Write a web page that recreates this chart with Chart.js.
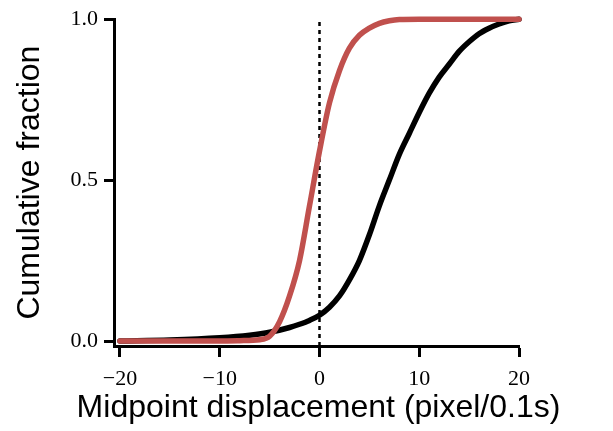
<!DOCTYPE html>
<html>
<head>
<meta charset="utf-8">
<script src="https://cdn.jsdelivr.net/npm/chart.js@4"></script>
<style>
  html, body { margin: 0; padding: 0; background: #fff; }
  #wrap { width: 613px; height: 431px; }
</style>
</head>
<body>
<div id="wrap"><canvas id="cdf" width="613" height="431"></canvas></div>
<script>
// black curve
const blackX = [-20, -15, -10, -7, -5, -3, -2, -1, 0, 1, 2, 3, 4, 5, 6, 7, 8, 9, 10, 11, 12, 13, 14, 15, 16, 17, 18, 19, 20];
const blackY = [0.0, 0.003, 0.01, 0.018, 0.027, 0.042, 0.052, 0.064, 0.08, 0.105, 0.14, 0.19, 0.25, 0.33, 0.42, 0.5, 0.58, 0.645, 0.71, 0.77, 0.82, 0.86, 0.9, 0.93, 0.955, 0.972, 0.985, 0.995, 1.0];

// red curve
const redX = [-20, -15, -10, -8, -6, -5, -4, -3, -2, -1, 0, 1, 2, 3, 4, 5, 6, 7, 8, 10, 15, 20];
const redY = [0.0, 0.0, 0.0, 0.001, 0.004, 0.015, 0.06, 0.14, 0.25, 0.42, 0.59, 0.74, 0.84, 0.91, 0.95, 0.972, 0.987, 0.995, 0.999, 1.0, 1.0, 1.0];

// dashed reference line at x = 0
const refX = [0, 0];
const refY = [-0.0155, 1.0];

const xTicks = [-20, -10, 0, 10, 20];
const yTicks = [0, 0.5, 1.0];

const xTitle = 'Midpoint displacement (pixel/0.1s)';
const yTitle = 'Cumulative fraction';

const pts = (xs, ys) => xs.map((x, i) => ({ x: x, y: ys[i] }));

const tickFont = { family: 'Liberation Serif', size: 22 };
const titleFont = { family: 'Liberation Sans', size: 32 };

// chart.js squeezes the x title to the axis width, so draw it ourselves
const xTitlePlugin = {
    id: 'xTitle',
    afterDraw(chart) {
        const ctx = chart.ctx;
        ctx.save();
        ctx.font = titleFont.size + 'px "' + titleFont.family + '"';
        ctx.fillStyle = '#000';
        ctx.textAlign = 'center';
        ctx.textBaseline = 'alphabetic';
        ctx.fillText(xTitle, 318.5, 417);
        ctx.restore();
    }
};

new Chart(document.getElementById('cdf').getContext('2d'), {
    type: 'line',
    data: {
        datasets: [
            {
                data: pts(redX, redY),
                borderColor: '#c0504d',
                borderWidth: 5.5,
                pointRadius: 0,
                cubicInterpolationMode: 'monotone',
                borderCapStyle: 'round',
                clip: false
            },
            {
                data: pts(blackX, blackY),
                borderColor: '#000000',
                borderWidth: 5.5,
                pointRadius: 0,
                cubicInterpolationMode: 'monotone',
                borderCapStyle: 'round',
                clip: false
            },
            {
                data: pts(refX, refY),
                borderColor: '#000000',
                borderWidth: 2.5,
                borderDash: [4, 4],
                pointRadius: 0,
                clip: false
            }
        ]
    },
    options: {
        responsive: false,
        animation: false,
        layout: { padding: { top: 18, right: 94, left: 0, bottom: 0 } },
        plugins: { legend: { display: false }, tooltip: { enabled: false } },
        scales: {
            x: {
                type: 'linear',
                min: -20.6,
                max: 20,
                afterBuildTicks: (s) => { s.ticks = xTicks.map(v => ({ value: v })); },
                afterFit: (s) => { s.height = 85; },
                border: { color: '#000', width: 3 },
                grid: { drawOnChartArea: false, tickLength: 11, tickColor: '#000', tickWidth: 3 },
                ticks: {
                    color: '#000',
                    font: tickFont,
                    padding: 9,
                    maxRotation: 0,
                    callback: (v) => String(v).replace('-', '\u2212')
                },
                title: { display: false }
            },
            y: {
                type: 'linear',
                min: -0.0155,
                max: 1.0,
                afterBuildTicks: (s) => { s.ticks = yTicks.map(v => ({ value: v })); },
                afterFit: (s) => { s.width = 114; },
                border: { color: '#000', width: 3 },
                grid: { drawOnChartArea: false, tickLength: 10, tickColor: '#000', tickWidth: 3 },
                ticks: {
                    color: '#000',
                    font: tickFont,
                    padding: 6,
                    callback: (v) => v.toFixed(1)
                },
                title: {
                    display: true,
                    text: yTitle,
                    color: '#000',
                    font: titleFont,
                    padding: { top: 11, bottom: 0 }
                }
            }
        }
    },
    plugins: [xTitlePlugin]
});
</script>
</body>
</html>
